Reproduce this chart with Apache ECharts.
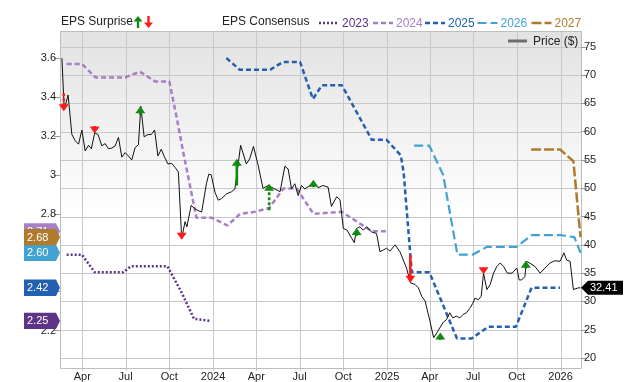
<!DOCTYPE html>
<html><head><meta charset="utf-8">
<script src="https://cdn.jsdelivr.net/npm/echarts@6/dist/echarts.min.js"></script>
<style>html,body{margin:0;padding:0;background:#fff}#c{width:640px;height:382px}</style>
</head><body><div id="c"></div>
<script>
// ---------- tick labels ----------
const xTickDates = ['2023-04-01','2023-07-01','2023-10-01','2024-01-01','2024-04-01','2024-07-01','2024-10-01','2025-01-01','2025-04-01','2025-07-01','2025-10-01','2026-01-01'];
const epsTicks = [2.2, 2.4, 2.6, 2.8, 3, 3.2, 3.4, 3.6];
const priceTicks = [20, 25, 30, 35, 40, 45, 50, 55, 60, 65, 70, 75];
const monthNames = ['Jan','Feb','Mar','Apr','May','Jun','Jul','Aug','Sep','Oct','Nov','Dec'];
const consensusYears = ['2023', '2024', '2025', '2026', '2027'];

// ---------- EPS consensus ----------
const eps2023Dates = ['2023-02-27','2023-03-31','2023-04-27','2023-06-26','2023-07-12','2023-09-27','2023-10-26','2023-11-22','2023-12-28'];
const eps2023 = [2.59, 2.59, 2.50, 2.50, 2.53, 2.53, 2.40, 2.26, 2.25];

const eps2024Dates = ['2023-02-27','2023-03-31','2023-04-29','2023-06-30','2023-07-31','2023-09-01','2023-10-01','2023-10-16','2023-10-30','2023-11-13','2023-11-27','2023-12-29','2024-01-31','2024-02-27','2024-03-29','2024-04-28','2024-05-28','2024-06-25','2024-07-30','2024-09-28','2024-11-30','2025-01-01'];
const eps2024 = [3.57, 3.57, 3.50, 3.50, 3.53, 3.48, 3.48, 3.30, 3.12, 2.95, 2.78, 2.78, 2.74, 2.80, 2.81, 2.83, 2.93, 2.93, 2.80, 2.81, 2.71, 2.71];

const eps2025Dates = ['2024-01-29','2024-02-26','2024-04-30','2024-05-27','2024-07-02','2024-07-29','2024-08-17','2024-09-28','2024-11-30','2024-12-31','2025-01-30','2025-02-05','2025-02-22','2025-03-31','2025-05-28','2025-06-28','2025-08-02','2025-09-29','2025-11-01','2025-12-31'];
const eps2025 = [3.60, 3.54, 3.54, 3.58, 3.58, 3.39, 3.46, 3.46, 3.18, 3.18, 3.10, 3.01, 2.50, 2.50, 2.16, 2.16, 2.22, 2.22, 2.42, 2.42];

const eps2026Dates = ['2025-02-27','2025-03-31','2025-04-29','2025-05-29','2025-06-30','2025-07-30','2025-09-30','2025-11-01','2026-01-02','2026-01-30','2026-02-12'];
const eps2026 = [3.15, 3.15, 3.00, 2.59, 2.59, 2.63, 2.63, 2.69, 2.69, 2.68, 2.60];

const eps2027Dates = ['2025-10-31','2025-12-31','2026-01-28','2026-02-12'];
const eps2027 = [3.13, 3.13, 3.07, 2.68];

// ---------- price ----------
const priceDates = ['2023-02-17','2023-02-22','2023-03-02','2023-03-10','2023-03-17','2023-03-24','2023-03-31','2023-04-07','2023-04-14','2023-04-20','2023-04-27','2023-05-04','2023-05-12','2023-05-19','2023-05-26','2023-06-02','2023-06-09','2023-06-16','2023-06-23','2023-06-30','2023-07-07','2023-07-14','2023-07-21','2023-07-28','2023-08-02','2023-08-09','2023-08-17','2023-08-24','2023-08-31','2023-09-07','2023-09-14','2023-09-21','2023-09-28','2023-10-06','2023-10-13','2023-10-20','2023-10-27','2023-11-03','2023-11-07','2023-11-16','2023-11-23','2023-11-30','2023-12-08','2023-12-18','2023-12-23','2023-12-28','2024-01-05','2024-01-12','2024-01-19','2024-01-29','2024-02-09','2024-02-16','2024-02-28','2024-03-11','2024-03-18','2024-03-26','2024-04-05','2024-04-15','2024-04-26','2024-05-07','2024-05-21','2024-05-31','2024-06-07','2024-06-14','2024-06-21','2024-06-28','2024-07-05','2024-07-12','2024-07-23','2024-07-30','2024-08-09','2024-08-19','2024-08-30','2024-09-06','2024-09-17','2024-09-24','2024-10-01','2024-10-09','2024-10-19','2024-10-24','2024-10-29','2024-11-05','2024-11-12','2024-11-19','2024-11-29','2024-12-10','2024-12-17','2024-12-24','2024-12-31','2025-01-07','2025-01-18','2025-01-28','2025-02-11','2025-02-19','2025-03-01','2025-03-08','2025-03-15','2025-03-22','2025-04-01','2025-04-09','2025-04-16','2025-04-29','2025-05-06','2025-05-13','2025-05-19','2025-05-27','2025-06-03','2025-06-10','2025-06-17','2025-06-24','2025-06-30','2025-07-05','2025-07-12','2025-07-18','2025-07-23','2025-07-30','2025-08-06','2025-08-13','2025-08-20','2025-08-27','2025-09-03','2025-09-11','2025-09-21','2025-10-01','2025-10-06','2025-10-11','2025-10-18','2025-10-21','2025-10-28','2025-11-08','2025-11-19','2025-11-29','2025-12-10','2025-12-20','2025-12-31','2026-01-08','2026-01-14','2026-01-21','2026-01-28','2026-02-07','2026-02-12'];
const prices = [73.0,63.9,66.5,59.5,58.4,57.8,60.3,56.6,57.6,57.0,59.8,59.5,57.5,57.9,57.0,57.1,57.5,59.0,55.5,56.3,55.7,55.0,57.2,57.7,64.5,59.1,59.5,59.5,60.3,55.7,56.9,55.5,54.3,54.4,53.7,52.9,41.1,44.1,43.2,47.0,46.4,46.1,45.8,50.8,52.5,52.4,49.3,47.9,48.2,49.0,49.4,49.9,57.6,54.3,55.2,57.4,54.0,50.0,50.5,50.0,49.4,53.9,53.4,49.9,50.8,48.7,50.5,49.9,50.5,51.2,50.1,50.5,50.2,46.8,48.5,48.0,42.9,42.6,41.1,40.4,42.9,43.2,42.6,43.2,42.3,42.0,38.8,39.1,39.4,38.9,40.0,38.8,35.9,33.3,33.0,32.4,30.9,30.1,26.6,23.6,24.5,26.3,26.8,28.0,27.1,27.4,27.1,27.7,28.0,28.8,29.6,30.6,30.3,30.9,35.0,32.1,33.0,35.0,36.2,36.8,36.2,35.0,35.0,35.9,33.8,33.8,34.4,37.1,36.8,36.2,35.0,35.9,36.8,37.2,37.1,38.6,37.3,37.1,32.1,32.4,32.41];

// ---------- EPS surprise arrows (drawn at price level) ----------
const surpriseDates = ['2023-02-21','2023-04-27','2023-08-01','2023-10-27','2024-02-20','2024-04-28','2024-07-30','2024-10-29','2025-02-19','2025-04-23','2025-07-23','2025-10-20'];
const surpriseFrom = [66.8, 61.0, 63.0, 42.2, 50.5, 46.1, 50.2, 41.6, 38.2, 23.2, 35.9, 35.8];
const surpriseTo   = [63.6, 59.7, 64.5, 40.9, 55.2, 50.8, 51.5, 43.0, 33.3, 24.5, 34.8, 37.2];
const surpriseDashed = [1, 0, 0, 0, 0, 1, 1, 0, 0, 0, 0, 0];

// ---------- styling ----------
const FONT = '"Liberation Sans", Arial, sans-serif';
const GREEN = '#118a11', RED = '#ff1a1a';
const GRIDC = '#c8c8c8';
const yearColors = ['#5e3489', '#a67fc4', '#2361b0', '#42a3d2', '#b07a2c'];
const yearDash = [[2,2], [5,3], [5,3], [9,4], [10,3]];
const yearWidth = [2.5, 2.5, 2.5, 2.2, 2.5];

function toTs(s){ const p = s.split('-'); return new Date(+p[0], +p[1]-1, +p[2]).getTime(); }
const zip = (d, v) => d.map((x, i) => [toTs(x), v[i]]);
const xTicks = xTickDates.map(toTs);

function epsLine(i, dates, vals){
  return { name: consensusYears[i], type:'line', yAxisIndex:0, data: zip(dates, vals), symbol:'none', z:2,
    lineStyle:{ color: yearColors[i], width: yearWidth[i], type: yearDash[i] }, animation:false };
}

function boxSeries(id, dates, vals, color, axisIdx, side, z){
  const n = vals.length - 1;
  return { id, type:'custom', yAxisIndex: axisIdx, z, clip:false, silent:true, animation:false,
    data: [[toTs(dates[n]), vals[n]]],
    renderItem(params, api){
      const pt = api.coord([api.value(0), api.value(1)]);
      const cs = params.coordSys;
      const y = pt[1], h = 8.2;
      const label = (+api.value(1)).toFixed(2);
      if (side === 'left') {
        const xr = cs.x;
        return { type:'group', children:[
          { type:'polygon', shape:{ points:[[xr-36,y-h],[xr-4,y-h],[xr,y],[xr-4,y+h],[xr-36,y+h]] }, style:{ fill: color } },
          { type:'text', style:{ text: label, x: xr-33, y: y+0.5, fill:'#fff', font:'11px '+FONT, verticalAlign:'middle', align:'left' } }
        ]};
      } else {
        const xl = cs.x + cs.width;
        return { type:'group', children:[
          { type:'polygon', shape:{ points:[[xl,y],[xl+7,y-7],[xl+42,y-7],[xl+42,y+7],[xl+7,y+7]] }, style:{ fill: color } },
          { type:'text', style:{ text: label, x: xl+9, y: y+0.5, fill:'#fff', font:'11px '+FONT, verticalAlign:'middle', align:'left' } }
        ]};
      }
    }
  };
}

// plot background + gridlines (thin rects), positioned through the axes' own scales
function gridSeries(){
  return { id:'gridlines', type:'custom', yAxisIndex:1, z:1, silent:true, animation:false, clip:false,
    data: [[xTicks[0], priceTicks[0]]],
    renderItem(params, api){
      const cs = params.coordSys;
      const ch = [{ type:'rect', shape:{ x:cs.x, y:cs.y, width:cs.width, height:cs.height },
        style:{ fill:{ type:'linear', x:0, y:0, x2:0, y2:1, colorStops:[{offset:0,color:'#e2e2e2'},{offset:0.55,color:'#ffffff'},{offset:1,color:'#ffffff'}] } } }];
      xTicks.forEach(t => { const x = Math.round(api.coord([t, priceTicks[0]])[0]);
        ch.push({ type:'rect', shape:{ x:x, y:cs.y, width:1, height:cs.height + 3 }, style:{ fill:GRIDC } }); });
      priceTicks.forEach(v => { const y = Math.round(api.coord([xTicks[0], v])[1]);
        ch.push({ type:'rect', shape:{ x:cs.x, y:y, width:cs.width, height:1 }, style:{ fill:GRIDC } }); });
      ch.push({ type:'rect', shape:{ x:Math.round(cs.x)+0.5, y:Math.round(cs.y)+0.5, width:Math.round(cs.width), height:Math.round(cs.height) },
        style:{ fill:null, stroke:'#bdbdbd', lineWidth:1 } });
      return { type:'group', children: ch };
    } };
}

// hand-drawn legend (line samples + text)
const legendX = [319, 373, 425, 477.5, 531.5];
const legendGraphics = [];
consensusYears.forEach((yr, i) => {
  legendGraphics.push({ type:'line', shape:{ x1:legendX[i], y1:23, x2:legendX[i]+20, y2:23 },
    style:{ stroke: yearColors[i], lineWidth: yearWidth[i], lineDash: yearDash[i] } });
  legendGraphics.push({ type:'text', x: legendX[i]+23, y: 23.5,
    style:{ text: yr, font:'12px '+FONT, fill: yearColors[i], verticalAlign:'middle' } });
});
legendGraphics.push({ type:'rect', z:50, shape:{ x:508, y:39.5, width:19, height:3 }, style:{ fill:'#6e6e6e' } });
legendGraphics.push({ type:'text', z:50, x:533, y:41.5, style:{ text:'Price ($)', font:'12px '+FONT, fill:'#222', verticalAlign:'middle' } });

const chart = echarts.init(document.getElementById('c'), null, { renderer:'canvas' });
const option = {
  animation:false,
  textStyle:{ fontFamily: FONT },
  grid:{ left:60, right:59, top:31, bottom:11, show:false },
  xAxis:{ type:'value', z:3, min: toTs('2023-02-13'), max: toTs('2026-02-13'),
    axisLine:{ show:false },
    axisTick:{ show:false },
    splitLine:{ show:false },
    axisLabel:{ customValues: xTicks, fontSize:11, color:'#222', margin:3, fontFamily: FONT,
      formatter: v => { const d = new Date(v); return d.getMonth() === 0 ? String(d.getFullYear()) : monthNames[d.getMonth()]; } }
  },
  yAxis:[
    { type:'value', z:3, position:'left', min:2.008, max:3.739, splitNumber:8,
      axisLine:{ show:false },
      axisTick:{ show:true, length:6, lineStyle:{ color:'#999' }, customValues: epsTicks },
      axisLabel:{ customValues: epsTicks, fontSize:11, color:'#222', margin:4, fontFamily: FONT },
      splitLine:{ show:false } },
    { type:'value', z:3, position:'right', min:18.24, max:77.8, splitNumber:12,
      axisLine:{ show:false },
      axisTick:{ show:true, length:6, lineStyle:{ color:'#999' }, customValues: priceTicks },
      axisLabel:{ customValues: priceTicks, fontSize:11, color:'#222', margin:3, fontFamily: FONT },
      splitLine:{ show:false } }
  ],
  graphic:[
    { type:'text', left:61, top:16, style:{ text:'EPS Surprise', font:'12px '+FONT, fill:'#222' } },
    { type:'text', left:222, top:16, style:{ text:'EPS Consensus', font:'12px '+FONT, fill:'#222' } },
    { type:'polygon', shape:{ points:[[138,16],[133.5,21.5],[142.5,21.5]] }, style:{ fill:GREEN } },
    { type:'rect', shape:{ x:136.8, y:21, width:2.4, height:7 }, style:{ fill:GREEN } },
    { type:'polygon', shape:{ points:[[148.5,28],[144,22.5],[153,22.5]] }, style:{ fill:RED } },
    { type:'rect', shape:{ x:147.3, y:16, width:2.4, height:7 }, style:{ fill:RED } }
  ].concat(legendGraphics),
  series:[
    gridSeries(),
    epsLine(0, eps2023Dates, eps2023),
    epsLine(1, eps2024Dates, eps2024),
    epsLine(2, eps2025Dates, eps2025),
    epsLine(3, eps2026Dates, eps2026),
    epsLine(4, eps2027Dates, eps2027),
    { name:'Price ($)', type:'line', yAxisIndex:1, data: zip(priceDates, prices), symbol:'none', z:3,
      lineStyle:{ color:'#111', width:1 }, animation:false },
    { id:'surprise', type:'custom', yAxisIndex:1, z:6, clip:false, silent:true, animation:false,
      encode:{ x:0, y:[1,2] },
      data: surpriseDates.map((d,i) => [toTs(d), surpriseFrom[i], surpriseTo[i], surpriseDashed[i]]),
      renderItem(params, api){
        const t = api.value(0);
        const a = api.coord([t, api.value(1)]);
        const b = api.coord([t, api.value(2)]);
        const up = api.value(2) > api.value(1);
        const color = up ? GREEN : RED;
        const dir = up ? -1 : 1;
        const hh = 7, hw = 5;
        const baseY = b[1] - dir*hh;
        const ch = [];
        if ((baseY - a[1]) * dir > 0) {
          ch.push({ type:'line', shape:{ x1:b[0], y1:a[1], x2:b[0], y2:baseY + dir*1 },
            style:{ stroke:color, lineWidth:2.6, lineDash: api.value(3) ? [3,2] : null } });
        }
        ch.push({ type:'polygon', shape:{ points:[[b[0], b[1]], [b[0]-hw, baseY], [b[0]+hw, baseY]] }, style:{ fill:color } });
        return { type:'group', children: ch };
      }
    },
    boxSeries('b2024', eps2024Dates, eps2024, yearColors[1], 0, 'left', 10),
    boxSeries('b2023', eps2023Dates, eps2023, yearColors[0], 0, 'left', 11),
    boxSeries('b2025', eps2025Dates, eps2025, yearColors[2], 0, 'left', 11),
    boxSeries('b2026', eps2026Dates, eps2026, yearColors[3], 0, 'left', 11),
    boxSeries('b2027', eps2027Dates, eps2027, yearColors[4], 0, 'left', 12),
    boxSeries('bPrice', priceDates, prices, '#000', 1, 'right', 12)
  ]
};
chart.setOption(option);
</script>
</body></html>
